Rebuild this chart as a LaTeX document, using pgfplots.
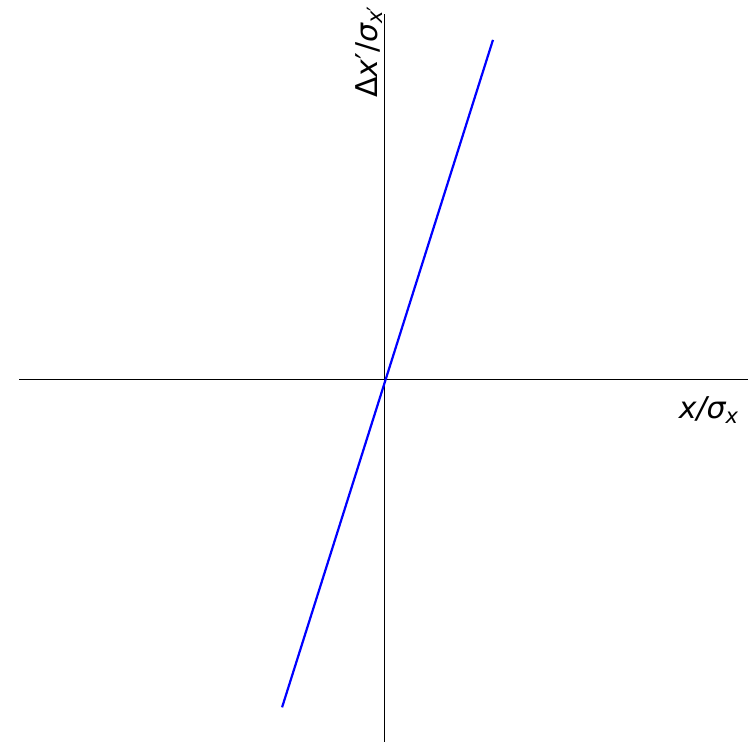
\documentclass[border=0pt]{standalone}
\usepackage{fontspec}
\setmainfont{DejaVu Sans}
\usepackage{pgfplots}
\pgfplotsset{compat=1.18}
\usetikzlibrary{calc}
\begin{document}
\begin{tikzpicture}
\begin{axis}[
  scale only axis,
  width=364.5pt, height=364pt,
  xmin=-1.003, xmax=0.995,
  ymin=-0.992, ymax=1.003,
  axis lines=middle,
  axis line style={-, line width=0.5pt, black},
  xtick=\empty, ytick=\empty,
  clip=false,
  xlabel={\fontsize{15}{18}\selectfont\itshape x/σ\textsubscript{x}},
  ylabel={\fontsize{15}{18}\selectfont Δ{\itshape x}′/{\itshape σ}\textsubscript{{\itshape x}′}},
  xlabel style={at={(axis cs:0.888,-0.082)}, anchor=center},
  ylabel style={at={(axis cs:-0.044,0.90)}, anchor=center, rotate=90},
]
\addplot[blue, line width=1.1pt] coordinates {(-0.282,-0.897) (0.296,0.932)};
\end{axis}
\pgfresetboundingbox
\path[use as bounding box] ($(current axis.south west)+(-9.5pt,0)$) rectangle ($(current axis.north east)+(0,7pt)$);
\end{tikzpicture}
\end{document}
